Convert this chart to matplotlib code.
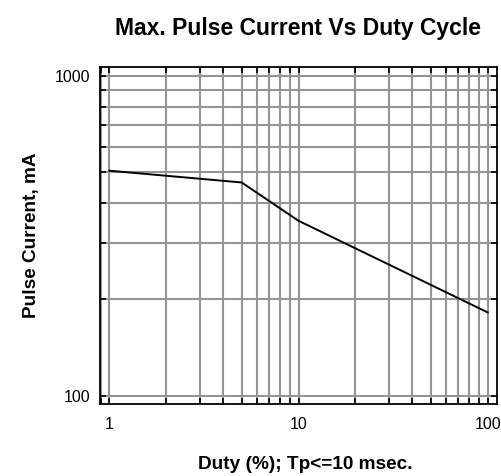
import matplotlib
matplotlib.use("Agg")
import matplotlib.pyplot as plt
from matplotlib.ticker import FixedLocator, NullFormatter, LogLocator

# data
duty = [1, 5, 10, 100]
current = [505, 464, 352, 182]

x_ticks = [1, 10, 100]
x_tick_labels = ["1", "10", "100"]
y_ticks = [100, 1000]
y_tick_labels = ["100", "1000"]

plt.rcParams['font.family'] = ['Liberation Sans', 'DejaVu Sans']

fig = plt.figure(figsize=(5.02, 4.76), dpi=100)
ax = fig.add_axes([0.199, 0.151, 0.791, 0.708])

ax.set_xscale('log')
ax.set_yscale('log')
ax.set_xlim(0.89, 112)
ax.set_ylim(94, 1065)

ax.plot(duty, current, color='black', lw=1.4, zorder=3)

ax.xaxis.set_major_locator(FixedLocator(x_ticks))
ax.set_xticklabels(x_tick_labels)
ax.yaxis.set_major_locator(FixedLocator(y_ticks))
ax.set_yticklabels(y_tick_labels)
ax.xaxis.set_minor_locator(LogLocator(base=10, subs=range(2, 10)))
ax.yaxis.set_minor_locator(LogLocator(base=10, subs=range(2, 10)))
ax.xaxis.set_minor_formatter(NullFormatter())
ax.yaxis.set_minor_formatter(NullFormatter())

ax.grid(which='both', color='#959595', lw=1.5)
ax.tick_params(which='both', direction='in', top=True, right=True,
               length=4, width=1.2, labelsize=11.5)
ax.tick_params(axis='x', pad=9)
ax.tick_params(axis='y', pad=7)

for s in ax.spines.values():
    s.set_linewidth(1.3)
    s.set_color('black')

ax.set_title("Max. Pulse Current Vs Duty Cycle", fontsize=16.5,
             fontweight='bold', pad=23)
ax.set_xlabel("Duty (%); Tp<=10 msec.", fontsize=13.7, fontweight='bold')
ax.set_ylabel("Pulse Current, mA", fontsize=13.7, fontweight='bold')
ax.xaxis.set_label_coords(0.516, -0.154)
ax.yaxis.set_label_coords(-0.15, 0.5)

fig.savefig("out.png", dpi=100)
